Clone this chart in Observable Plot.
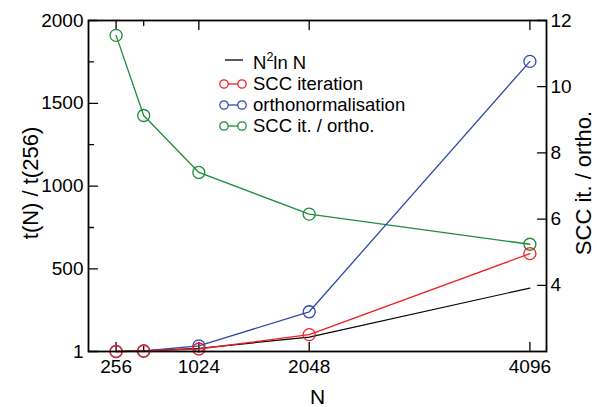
<!DOCTYPE html>
<html><head><meta charset="utf-8">
<script src="https://cdn.jsdelivr.net/npm/d3@7"></script>
<script src="https://cdn.jsdelivr.net/npm/@observablehq/plot@0.6"></script>
<style>
body{margin:0;background:#fff;}
#chart{position:relative;width:597px;height:407px;font-family:"Liberation Sans",Arial,Helvetica,sans-serif;}
#legend{position:absolute;left:218px;top:0;font-size:18.5px;color:#000;}
.row{position:absolute;left:0;height:18px;display:flex;align-items:center;white-space:nowrap;line-height:18px;}
.row svg{width:30px;height:18px;margin-right:5px;flex:none;}
.sup{font-size:12.5px;position:relative;top:-8px;}
</style></head><body>
<div id="chart"><div id="legend"></div></div>
<script>
// ---- data ----
const N = [256, 512, 1024, 2048, 4096];
const sccIteration = [1, 4, 16, 103, 592];
const orthonormalisation = [1, 4, 35, 241, 1753];
const n2lnN = [1, 4.5, 20, 88, 384];
const sccOverOrtho = [11.55, 9.13, 7.41, 6.15, 5.24];
const xMajorTicks = [256, 1024, 2048, 4096];
const xMinorTicks = [512];
const yMajorTicks = [1, 500, 1000, 1500, 2000];
const yMinorTicks = [750, 1250, 1750];
const y2MajorTicks = [4, 6, 8, 10, 12];
const legendLabels = ["N²ln N", "SCC iteration", "orthonormalisation", "SCC it. / ortho."];

const RED = "#ee1f25", BLUE = "#2f4aa8", GREEN = "#1f8b3d";
const toLeft = d3.scaleLinear([2, 12], [1, 2000]);

const rows = arr => N.map((n, i) => ({n, v: arr[i]}));
const sccRows = rows(sccIteration);
const orthoRows = rows(orthonormalisation);
const refRows = rows(n2lnN);
const ratioRows = N.map((n, i) => ({n, v: toLeft(sccOverOrtho[i])}));

const tickShape = {draw(ctx, l) { ctx.moveTo(0, 0); ctx.lineTo(0, -l); }};
const tk = (data, anchor, rot, len, ch) => Plot.vector(data, {
  [ch]: d => d, frameAnchor: anchor, rotate: rot, length: len, anchor: "start",
  shape: tickShape, stroke: "black", strokeWidth: 1.3
});

const plot = Plot.plot({
  width: 597, height: 407,
  marginLeft: 88, marginRight: 51, marginTop: 20, marginBottom: 56,
  style: {fontFamily: '"Liberation Sans", Arial, Helvetica, sans-serif', fontSize: "19px", color: "black", background: "white"},
  x: {domain: [0, 4250]},
  y: {domain: [1, 2000]},
  marks: [
    Plot.axisX({anchor: "bottom", ticks: xMajorTicks, tickSize: 0, tickPadding: 8, tickFormat: d => String(d), label: null, fontSize: 19}),
    Plot.axisY({anchor: "left", ticks: yMajorTicks, tickSize: 0, tickPadding: 5, tickFormat: d => String(d), label: null, fontSize: 19}),
    Plot.axisY({anchor: "right", ticks: y2MajorTicks.map(toLeft), tickSize: 0, tickPadding: 4, tickFormat: d => String(Math.round(toLeft.invert(d))), label: null, fontSize: 19}),
    tk(xMajorTicks, "bottom", 0, 9, "x"),
    tk(xMinorTicks, "bottom", 0, 5, "x"),
    tk(xMajorTicks, "top", 180, 9, "x"),
    tk(xMinorTicks, "top", 180, 5, "x"),
    tk(yMajorTicks, "left", 90, 9, "y"),
    tk(yMinorTicks, "left", 90, 5, "y"),
    tk(y2MajorTicks.map(toLeft), "right", -90, 9, "y"),
    Plot.line(ratioRows, {x: "n", y: "v", stroke: GREEN, strokeWidth: 1.3}),
    Plot.dot(ratioRows, {x: "n", y: "v", r: 6, stroke: GREEN, fill: "none", strokeWidth: 1.3}),
    Plot.line(refRows, {x: "n", y: "v", stroke: "black", strokeWidth: 1.2}),
    Plot.line(orthoRows, {x: "n", y: "v", stroke: BLUE, strokeWidth: 1.3}),
    Plot.dot(orthoRows, {x: "n", y: "v", r: 6, stroke: BLUE, fill: "none", strokeWidth: 1.3}),
    Plot.line(sccRows, {x: "n", y: "v", stroke: RED, strokeWidth: 1.3}),
    Plot.dot(sccRows, {x: "n", y: "v", r: 6, stroke: RED, fill: "none", strokeWidth: 1.3}),
    Plot.frame({stroke: "black", strokeWidth: 1.8}),
    Plot.text(["t(N) / t(256)"], {text: d => d, frameAnchor: "left", textAnchor: "middle", lineAnchor: "middle", dx: -58, dy: -3, rotate: -90, fontSize: 22, fill: "black"}),
    Plot.text(["SCC it. / ortho."], {text: d => d, frameAnchor: "right", textAnchor: "middle", lineAnchor: "middle", dx: 37, dy: -3, rotate: -90, fontSize: 22, fill: "black"}),
    Plot.text(["N"], {text: d => d, frameAnchor: "bottom", textAnchor: "middle", lineAnchor: "middle", dy: 46, fontSize: 21, fill: "black"})
  ]
});
document.getElementById("chart").prepend(plot);

// ---- legend ----
const legend = document.getElementById("legend");
const items = [
  {label: legendLabels[0], color: "black", dots: false, top: 54.6, ly: 5},
  {label: legendLabels[1], color: RED, dots: true, top: 75.4, ly: 9},
  {label: legendLabels[2], color: BLUE, dots: true, top: 96.2, ly: 9},
  {label: legendLabels[3], color: GREEN, dots: true, top: 117, ly: 9}
];
items.forEach((it, i) => {
  const row = document.createElement("div");
  row.className = "row";
  row.style.top = it.top + "px";
  const sw = it.dots
    ? `<svg><line x1="10" x2="20" y1="${it.ly}" y2="${it.ly}" stroke="${it.color}" stroke-width="1.3"/><circle cx="6" cy="${it.ly}" r="4.2" fill="none" stroke="${it.color}" stroke-width="1.3"/><circle cx="24" cy="${it.ly}" r="4.2" fill="none" stroke="${it.color}" stroke-width="1.3"/></svg>`
    : `<svg><line x1="7" x2="25" y1="${it.ly}" y2="${it.ly}" stroke="${it.color}" stroke-width="1.3"/></svg>`;
  const txt = i === 0
    ? `<span>N<span class="sup">2</span>ln N</span>`
    : `<span>${it.label}</span>`;
  row.innerHTML = sw + txt;
  legend.appendChild(row);
});
</script>
</body></html>
